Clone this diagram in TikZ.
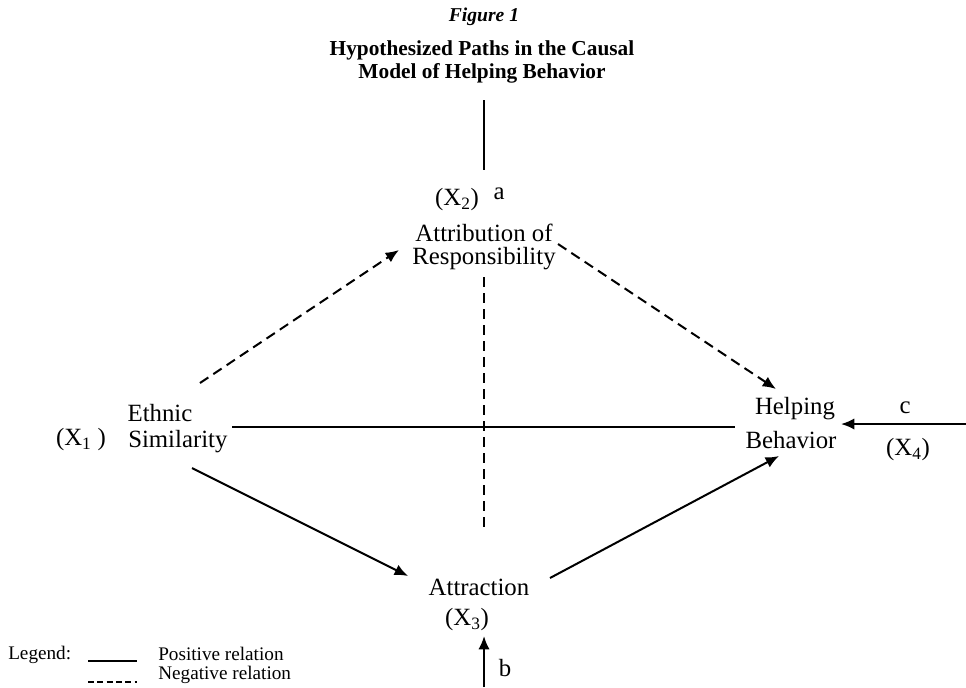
\documentclass[tikz,border=0pt]{standalone}
\usepackage{fontspec}
\setmainfont{Liberation Serif}
\usetikzlibrary{arrows.meta}
\begin{document}
\begin{tikzpicture}[x=0.75pt,y=-0.75pt,
  lbl/.style={inner sep=0pt,font=\fontsize{18.6}{22}\selectfont},
  lgd/.style={inner sep=0pt,anchor=west,font=\fontsize{14.4}{16}\selectfont},
  posline/.style={line width=1.5pt},
  negline/.style={line width=1.5pt,dash pattern=on 7.5pt off 4.5pt},
  tipend/.style={-{Latex[length=10pt,width=8.5pt]}}]
\useasboundingbox (0,0) rectangle (966,687);
% titles
\node[inner sep=0pt,font=\fontsize{14.7}{16}\selectfont\bfseries\itshape] (fig) at (484,17) {Figure 1};
\node[inner sep=0pt,font=\fontsize{16}{18}\selectfont\bfseries] (t1) at (482,50) {Hypothesized Paths in the Causal};
\node[inner sep=0pt,font=\fontsize{16}{18}\selectfont\bfseries] (t2) at (482,73) {Model of Helping Behavior};
% nodes
\node[lbl] (x2) at (457,200) {(X\textsubscript{2})};
\node[lbl] (a) at (499,194) {a};
\node[lbl] (attr1) at (484,233) {Attribution of};
\node[lbl] (attr2) at (484,259) {Responsibility};
\node[lbl] (eth) at (160,413) {Ethnic};
\node[lbl,anchor=west] (sim) at (128,442) {Similarity};
\node[lbl] (x1) at (81,440) {(X\textsubscript{1} )};
\node[lbl] (help) at (795,409) {Helping};
\node[lbl] (beh) at (791,440) {Behavior};
\node[lbl] (c) at (905,408) {c};
\node[lbl] (x4) at (908,450) {(X\textsubscript{4})};
\node[lbl] (attn) at (479,587) {Attraction};
\node[lbl] (x3) at (467,620) {(X\textsubscript{3})};
\node[lbl] (b) at (505,668) {b};
% connector end points
\coordinate (ttop) at (484,100);
\coordinate (tbot) at (484,170);
\coordinate (e1s) at (200,383);
\coordinate (e1e) at (399,250);
\coordinate (e2s) at (558,244);
\coordinate (e2e) at (776,389);
\coordinate (v1) at (484,277);
\coordinate (v2) at (484,528);
\coordinate (h1) at (232,427);
\coordinate (h2) at (735,427);
\coordinate (r1) at (966,424);
\coordinate (r2) at (841,424);
\coordinate (s1s) at (192,468);
\coordinate (s1e) at (408,576);
\coordinate (s2s) at (550,578);
\coordinate (s2e) at (779,456);
\coordinate (b1) at (484,687);
\coordinate (b2) at (484,636);
% connectors
\draw[posline] (ttop) -- (tbot);
\draw[negline,tipend] (e1s) -- (e1e);
\draw[negline,tipend] (e2s) -- (e2e);
\draw[negline] (v1) -- (v2);
\draw[posline] (h1) -- (h2);
\draw[posline,tipend] (r1) -- (r2);
\draw[posline,tipend] (s1s) -- (s1e);
\draw[posline,tipend] (s2s) -- (s2e);
\draw[posline,tipend] (b1) -- (b2);
% legend
\node[lgd] (leg) at (8,655) {Legend:};
\coordinate (l1a) at (88,661);
\coordinate (l1b) at (137,661);
\coordinate (l2a) at (88,682);
\coordinate (l2b) at (137,682);
\draw[line width=1.2pt] (l1a) -- (l1b);
\draw[line width=1.2pt,dash pattern=on 4.5pt off 2.5pt] (l2a) -- (l2b);
\node[lgd] (lp) at (158,654) {Positive relation};
\node[lgd] (ln) at (158,675) {Negative relation};
\end{tikzpicture}
\end{document}
